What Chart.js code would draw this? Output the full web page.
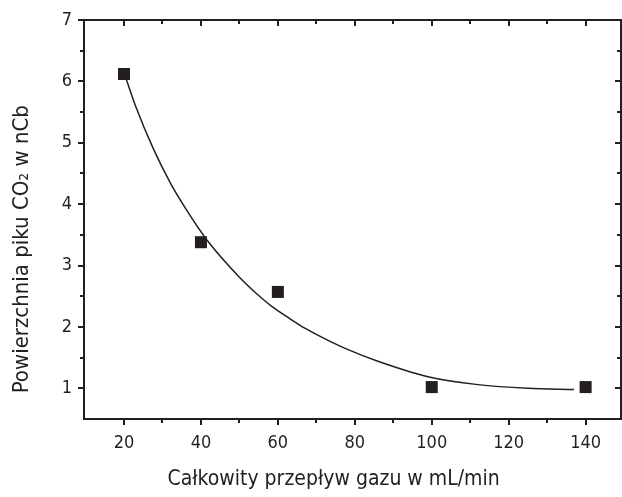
<!DOCTYPE html>
<html lang="pl">
<head>
<meta charset="UTF-8">
<title>Powierzchnia piku CO2 a przepływ gazu</title>
<script src="https://cdn.jsdelivr.net/npm/chart.js"></script>
<style>
    body { margin: 0; background: #fff; }
    canvas { display: block; }
</style>
</head>
<body>
<canvas id="chart" width="622" height="497"></canvas>
<script>
    // measured points (total gas flow, mL/min -> CO2 peak area, nCb)
    const flowX = [20, 40, 60, 100, 140];
    const peakArea = [6.12, 3.38, 2.57, 1.02, 1.02];

    // fitted decay curve
    const fitX = [20.5, 23, 27.5, 32, 36, 41.5, 50, 54.5, 58.5, 63, 67, 71.5, 77.5, 86, 99, 112, 125, 137];
    const fitY = [6.05, 5.6, 4.92, 4.35, 3.93, 3.42, 2.81, 2.54, 2.33, 2.14, 1.98, 1.83, 1.65, 1.44, 1.19, 1.06, 1.0, 0.98];

    const xTickLabels = [20, 40, 60, 80, 100, 120, 140];
    const xMinorTicks = [30, 50, 70, 90, 110, 130];
    const yTickLabels = [1, 2, 3, 4, 5, 6, 7];
    const yMinorTicks = [1.5, 2.5, 3.5, 4.5, 5.5, 6.5];

    const ink = '#231f20';
    const family = "'Liberation Sans Narrow', 'Arial Narrow', 'DejaVu Sans Condensed', sans-serif";

    // frame round the plot plus the small tick marks (outward left/bottom, inward top/right)
    const frameTicks = {
        id: 'frameTicks',
        afterDraw(chart) {
            const { ctx, chartArea: a, scales: { x, y } } = chart;
            ctx.save();
            ctx.strokeStyle = ink;
            ctx.lineWidth = 2;
            ctx.strokeRect(a.left, a.top, a.right - a.left, a.bottom - a.top);
            const mark = (x1, y1, x2, y2) => {
                ctx.beginPath();
                ctx.moveTo(x1, y1);
                ctx.lineTo(x2, y2);
                ctx.stroke();
            };
            xTickLabels.forEach(v => {
                const p = Math.round(x.getPixelForValue(v));
                mark(p, a.bottom, p, a.bottom + 6);
                mark(p, a.top, p, a.top + 6);
            });
            xMinorTicks.forEach(v => {
                const p = Math.round(x.getPixelForValue(v));
                mark(p, a.bottom, p, a.bottom + 4);
                mark(p, a.top, p, a.top + 4);
            });
            yTickLabels.forEach(v => {
                const p = Math.round(y.getPixelForValue(v));
                mark(a.left - 6, p, a.left, p);
                mark(a.right - 6, p, a.right, p);
            });
            yMinorTicks.forEach(v => {
                const p = Math.round(y.getPixelForValue(v));
                mark(a.left - 4, p, a.left, p);
                mark(a.right - 4, p, a.right, p);
            });
            ctx.restore();
        }
    };

    new Chart(document.getElementById('chart'), {
        type: 'scatter',
        data: {
            datasets: [
                {
                    label: 'pomiar',
                    data: flowX.map((v, i) => ({ x: v, y: peakArea[i] })),
                    pointStyle: 'rect',
                    pointRadius: 8.5,
                    backgroundColor: ink,
                    borderColor: ink,
                    borderWidth: 0,
                    showLine: false
                },
                {
                    label: 'dopasowanie',
                    data: fitX.map((v, i) => ({ x: v, y: fitY[i] })),
                    showLine: true,
                    pointRadius: 0,
                    borderColor: ink,
                    borderWidth: 1.5,
                    cubicInterpolationMode: 'monotone',
                    fill: false
                }
            ]
        },
        options: {
            responsive: false,
            animation: false,
            layout: { autoPadding: false, padding: { top: 20, right: 1, left: 0, bottom: 0 } },
            plugins: { legend: { display: false }, tooltip: { enabled: false } },
            scales: {
                x: {
                    type: 'linear',
                    min: 9.6,
                    max: 149.2,
                    afterBuildTicks: s => { s.ticks = xTickLabels.map(v => ({ value: v })); },
                    afterFit: s => { s.height = 78; s.paddingLeft = 0; s.paddingRight = 0; },
                    grid: { display: false, drawTicks: false },
                    border: { display: false },
                    ticks: { color: ink, padding: 14, font: { family, size: 18 } },
                    title: {
                        display: true,
                        text: 'Całkowity przepływ gazu w mL/min\u2003\u2003',
                        color: ink,
                        font: { family, size: 21 },
                        padding: { top: 0, bottom: 5 }
                    }
                },
                y: {
                    min: 0.5,
                    max: 7,
                    afterBuildTicks: s => { s.ticks = yTickLabels.map(v => ({ value: v })); },
                    afterFit: s => { s.width = 84; s.paddingTop = 0; s.paddingBottom = 0; },
                    grid: { display: false, drawTicks: false },
                    border: { display: false },
                    ticks: { color: ink, padding: 12, font: { family, size: 18 } },
                    title: {
                        display: true,
                        text: 'Powierzchnia piku CO\u2082 w nCb\u2003\u2003\u2003',
                        color: ink,
                        font: { family, size: 22 },
                        padding: { top: 9, bottom: 0 }
                    }
                }
            }
        },
        plugins: [frameTicks]
    });
</script>
</body>
</html>
